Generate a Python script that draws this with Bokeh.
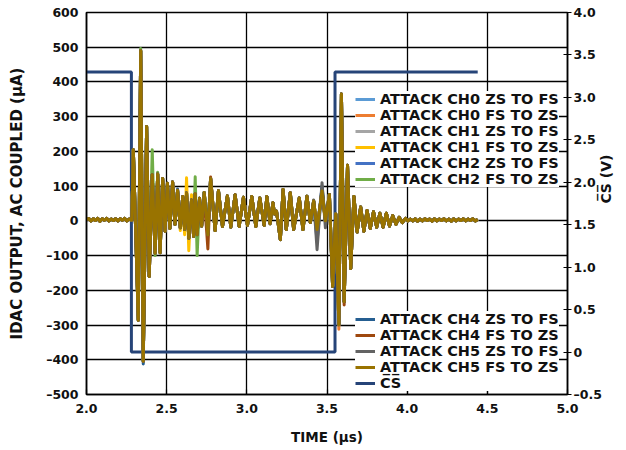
import math
from bokeh.plotting import figure
from bokeh.models import Range1d, LinearAxis, FixedTicker, Legend, LegendItem
from bokeh.embed import file_html
from bokeh.resources import INLINE

# ---------------- data ----------------
X_TICKS = [2.0, 2.5, 3.0, 3.5, 4.0, 4.5, 5.0]
X_TICK_LABELS = ["2.0", "2.5", "3.0", "3.5", "4.0", "4.5", "5.0"]
Y_TICKS = [-500.0, -400.0, -300.0, -200.0, -100.0, 0.0, 100.0, 200.0, 300.0, 400.0, 500.0, 600.0]
Y_TICK_LABELS = ["\u2013500", "\u2013400", "\u2013300", "\u2013200", "\u2013100", "0",
                 "100", "200", "300", "400", "500", "600"]
CS_TICKS = [-0.5, 0.0, 0.5, 1.0, 1.5, 2.0, 2.5, 3.0, 3.5, 4.0]
CS_TICK_LABELS = ["\u20130.5", "0", "0.5", "1.0", "1.5", "2.0", "2.5", "3.0", "3.5", "4.0"]

# common time base (µs) and the shared ringing waveform (µA)
TIME_US = [
    2.000, 2.014, 2.028, 2.042, 2.056, 2.070, 2.084, 2.098, 2.112, 2.126, 2.140,
    2.154, 2.168, 2.182, 2.196, 2.210, 2.224, 2.238, 2.252, 2.266, 2.280,
    2.283, 2.292, 2.323, 2.338, 2.354, 2.375, 2.391, 2.410, 2.428, 2.444, 2.459,
    2.475, 2.490, 2.505, 2.520, 2.537, 2.552, 2.568, 2.585, 2.600, 2.612, 2.624,
    2.638, 2.655, 2.668, 2.678, 2.690, 2.705, 2.718, 2.734, 2.748, 2.757, 2.774,
    2.802, 2.823, 2.848, 2.879, 2.900, 2.927, 2.952, 2.979, 3.004, 3.031, 3.056,
    3.081, 3.108, 3.125, 3.145, 3.163, 3.172, 3.185, 3.209, 3.226, 3.246, 3.271,
    3.292, 3.327, 3.350, 3.375, 3.396, 3.417, 3.438, 3.469, 3.490, 3.515, 3.535,
    3.555, 3.574, 3.590, 3.607, 3.628, 3.648, 3.668, 3.688, 3.710, 3.730, 3.750,
    3.770, 3.790, 3.810, 3.830, 3.850, 3.870, 3.890, 3.910, 3.930, 3.950, 3.970,
    3.990, 4.005, 4.020, 4.035, 4.050, 4.065, 4.080, 4.095, 4.110, 4.125, 4.140,
    4.155, 4.170, 4.185, 4.200, 4.215, 4.230, 4.245, 4.260, 4.275, 4.290, 4.305,
    4.320, 4.335, 4.350, 4.365, 4.380, 4.395, 4.410, 4.425, 4.440,
]
BASE_UA = [
    3, 7, 0, 6, 1, 7, -1, 6, 2, 7, 0,
    5, 1, 6, 0, 6, 2, 7, 0, 5, 2,
    3, 205, -286, 490, -404, 272, -160, 133, -93, 135, -92,
    122, -30, 108, -22, 112, -10, 88, -20, 70, -25, 80,
    -50, 60, -45, 78, -40, 65, -15, 82, 10, -40, 122,
    -28, 87, -16, 72, -18, 75, -16, 68, -13, 70, -16,
    66, -13, 70, -8, 52, 20, 28, -54, 90, -25, 81,
    -25, 66, -25, 71, -5, 57, -25, 86, 0, 76, -189,
    20, -299, 365, -233, 160, -137, 70, -32, 40, -30, 30,
    -22, 26, -18, 22, -18, 22, -15, 15, -10, 10, -5,
    7, 0, 5, 0, 6, -1, 5, 0, 6, 1, 5,
    -1, 6, 0, 5, 1, 6, 0, 5, -1, 6, 0,
    5, 1, 6, 0, 5, 1, 6, 0, 4,
]

# per-channel points where a channel departs from the shared waveform
CH0_ZS_T, CH0_ZS_V = [], []
CH0_FS_T, CH0_FS_V = [3.574], [-312]
CH1_ZS_T, CH1_ZS_V = [], []
CH1_FS_T, CH1_FS_V = [2.585, 2.600, 2.612, 2.624, 2.638, 2.655, 2.668], [-28, 40, -40, 124, -86, 75, -30]
CH2_ZS_T, CH2_ZS_V = [3.469], [95]
CH2_FS_T, CH2_FS_V = ([2.338, 2.410, 2.428, 2.444, 2.655, 2.668, 2.678, 2.690, 2.705],
                      [496, 205, -100, 140, 40, -30, 127, -100, 60])
CH4_ZS_T, CH4_ZS_V = [2.354, 2.568, 3.438, 3.469], [-412, 92, -60, 100]
CH4_FS_T, CH4_FS_V = [2.734, 2.748, 2.757, 2.774, 3.607], [60, -20, -81, 126, -242]
CH5_ZS_T, CH5_ZS_V = [3.417, 3.438, 3.469, 3.490], [60, -83, 110, -20]
CH5_FS_T, CH5_FS_V = [], []

SERIES_NAMES = [
    "ATTACK CH0 ZS TO FS", "ATTACK CH0 FS TO ZS", "ATTACK CH1 ZS TO FS",
    "ATTACK CH1 FS TO ZS", "ATTACK CH2 ZS TO FS", "ATTACK CH2 FS TO ZS",
    "ATTACK CH4 ZS TO FS", "ATTACK CH4 FS TO ZS", "ATTACK CH5 ZS TO FS",
    "ATTACK CH5 FS TO ZS",
]
SERIES_COLORS = ["#5B9BD5", "#ED7D31", "#A5A5A5", "#FFC000", "#4472C4", "#70AD47",
                 "#255E91", "#9E480E", "#636363", "#997300"]
SERIES_DEVIATIONS = [
    (CH0_ZS_T, CH0_ZS_V), (CH0_FS_T, CH0_FS_V), (CH1_ZS_T, CH1_ZS_V),
    (CH1_FS_T, CH1_FS_V), (CH2_ZS_T, CH2_ZS_V), (CH2_FS_T, CH2_FS_V),
    (CH4_ZS_T, CH4_ZS_V), (CH4_FS_T, CH4_FS_V), (CH5_ZS_T, CH5_ZS_V),
    (CH5_FS_T, CH5_FS_V),
]

CS_TIME = [2.0, 2.28, 2.28, 3.55, 3.55, 4.44]
CS_VOLT = [3.3, 3.3, 0.0, 0.0, 3.3, 3.3]
CS_LABEL = "C\u0305S\u0305"

# ---------------- styling ----------------
FONT = "DejaVu Sans"
TXT = "#111111"


def channel_values(dev_t, dev_v):
    vals = list(BASE_UA)
    index = {t: i for i, t in enumerate(TIME_US)}
    for t, v in zip(dev_t, dev_v):
        vals[index[t]] = v
    return vals


p = figure(width=626, height=450, x_range=Range1d(2.0, 5.0), y_range=Range1d(-500, 600),
           output_backend="svg", toolbar_location=None,
           min_border_left=86, min_border_right=59, min_border_top=12, min_border_bottom=56)
p.background_fill_color = "white"
p.border_fill_color = "white"
p.outline_line_color = "black"
p.outline_line_width = 1.5

# axes
p.xaxis.ticker = FixedTicker(ticks=X_TICKS)
p.xaxis.major_label_overrides = dict(zip(X_TICKS, X_TICK_LABELS))
p.yaxis.ticker = FixedTicker(ticks=Y_TICKS)
p.yaxis.major_label_overrides = dict(zip(Y_TICKS, Y_TICK_LABELS))
for ax in (p.xaxis[0], p.yaxis[0]):
    ax.axis_line_color = "black"
    ax.axis_line_width = 1.5
    ax.major_tick_line_color = "black"
    ax.major_tick_line_width = 1.2
    ax.minor_tick_line_color = None
    ax.major_label_text_font = FONT
    ax.major_label_text_font_style = "bold"
    ax.major_label_text_font_size = "12.5px"
    ax.major_label_text_color = TXT
    ax.axis_label_text_font = FONT
    ax.axis_label_text_font_style = "bold"
    ax.axis_label_text_color = TXT
p.xaxis.major_tick_in = 5
p.xaxis.major_tick_out = 0
p.xaxis.major_label_standoff = 9
p.yaxis.major_tick_in = 0
p.yaxis.major_tick_out = 0
p.yaxis.major_label_standoff = 8
p.xaxis.axis_label = "TIME (\u00b5s)"
p.xaxis.axis_label_text_font_size = "13.5px"
p.xaxis.axis_label_standoff = 13
p.yaxis.axis_label = "IDAC OUTPUT, AC COUPLED (\u00b5A)"
p.yaxis.axis_label_text_font_size = "15px"
p.yaxis.axis_label_standoff = 17

p.extra_y_ranges = {"cs": Range1d(-0.5, 4.0)}
ax_r = LinearAxis(y_range_name="cs", ticker=FixedTicker(ticks=CS_TICKS),
                  major_label_overrides=dict(zip(CS_TICKS, CS_TICK_LABELS)))
ax_r.axis_line_color = "black"
ax_r.axis_line_width = 1.5
ax_r.major_tick_line_color = "black"
ax_r.major_tick_line_width = 1.2
ax_r.major_tick_in = 4
ax_r.major_tick_out = 4
ax_r.minor_tick_line_color = None
ax_r.major_label_standoff = 2
ax_r.major_label_text_font = FONT
ax_r.major_label_text_font_style = "bold"
ax_r.major_label_text_font_size = "12.5px"
ax_r.major_label_text_color = TXT
ax_r.axis_label = CS_LABEL + " (V)"
ax_r.axis_label_text_font = FONT
ax_r.axis_label_text_font_style = "bold"
ax_r.axis_label_text_font_size = "14px"
ax_r.axis_label_text_color = TXT
ax_r.axis_label_standoff = 1
if "axis_label_orientation" in ax_r.properties():
    ax_r.axis_label_orientation = math.pi / 2
p.add_layout(ax_r, "right")

# grid
p.xgrid.ticker = FixedTicker(ticks=X_TICKS)
p.ygrid.ticker = FixedTicker(ticks=Y_TICKS)
p.grid.grid_line_color = "black"
p.grid.grid_line_width = 1.3

# CS trace (secondary axis)
cs_r = p.line(CS_TIME, CS_VOLT, y_range_name="cs", line_color="#264478", line_width=3)

renderers = []
for name, color, (dt, dv) in zip(SERIES_NAMES, SERIES_COLORS, SERIES_DEVIATIONS):
    r = p.line(TIME_US, channel_values(dt, dv), line_color=color, line_width=3,
               line_join="round")
    renderers.append(r)


def make_legend(items, loc):
    lg = Legend(items=items, location=loc)
    lg.label_text_font = FONT
    lg.label_text_font_style = "bold"
    lg.label_text_font_size = "14.5px"
    lg.label_text_color = TXT
    lg.label_height = 16
    lg.glyph_height = 16
    lg.glyph_width = 20
    lg.label_standoff = 5
    lg.spacing = 0
    lg.padding = 3
    lg.margin = 0
    lg.border_line_color = None
    lg.background_fill_color = "white"
    lg.background_fill_alpha = 1.0
    return lg


items_top = [LegendItem(label=SERIES_NAMES[i], renderers=[renderers[i]]) for i in range(6)]
items_bot = [LegendItem(label=SERIES_NAMES[i], renderers=[renderers[i]]) for i in range(6, 10)]
items_bot.append(LegendItem(label=CS_LABEL, renderers=[cs_r]))
p.add_layout(make_legend(items_top, (269, 207)))
p.add_layout(make_legend(items_bot, (269, 3)))

open("out.html", "w").write(file_html(p, INLINE))
